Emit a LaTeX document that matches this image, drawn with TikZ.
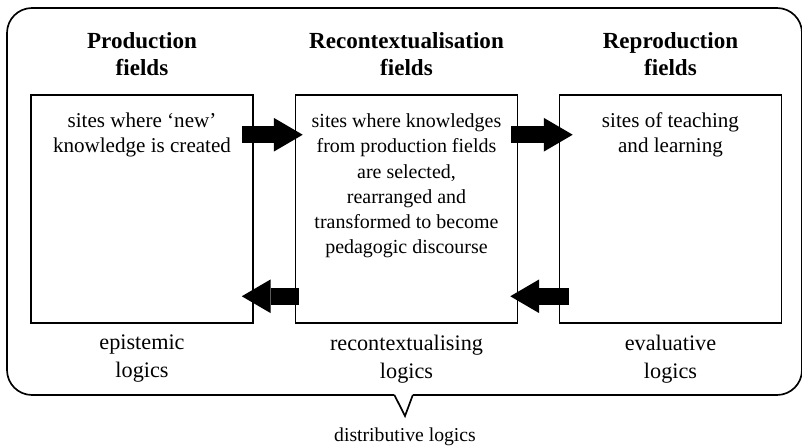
\documentclass[tikz,border=0pt]{standalone}
\usepackage{fontspec}
\setmainfont{Liberation Serif}
\usetikzlibrary{positioning,arrows.meta}

\tikzset{
  field/.style={draw, line width=1.1pt, minimum width=5.55cm, minimum height=5.7cm},
  sites/.style={inner sep=0pt, align=center, font=\fontsize{15}{17.9}\selectfont},
  heading/.style={inner sep=0pt, align=center, font=\fontsize{16.4}{19.2}\selectfont\bfseries},
  logics/.style={inner sep=0pt, align=center, font=\fontsize{15.8}{19.9}\selectfont},
  fatarrow/.style={line width=0.42cm, -{Triangle[length=0.72cm,width=0.84cm,line width=0pt]}},
}

\begin{document}
\begin{tikzpicture}
\useasboundingbox (0,0) rectangle (20.05,-11.2);

\node[field] (production) at (3.55,-5.225) {};
\node[field] (recontext) at (10.1625,-5.225) {};
\node[field] (reproduction) at (16.7625,-5.225) {};

\node[heading, above=0.45cm of production.north] (productionhead) {Production\\fields};
\node[heading, above=0.45cm of recontext.north] (recontexthead) {Recontextualisation\\fields};
\node[heading, above=0.45cm of reproduction.north] (reproductionhead) {Reproduction\\fields};

\node[sites, below=0.46cm of production.north] (productiontext) {sites where ‘new’\\knowledge is created};
\node[sites, font=\fontsize{14.2}{17.9}\selectfont, below=0.485cm of recontext.north] (recontexttext) {sites where knowledges\\from production fields\\are selected,\\rearranged and\\transformed to become\\pedagogic discourse};
\node[sites, below=0.46cm of reproduction.north] (reproductiontext) {sites of teaching\\and learning};

\node[logics, below=0.27cm of production.south] (epistemic) {epistemic\\logics};
\node[logics, below=0.27cm of recontext.south] (recontextualising) {recontextualising\\logics};
\node[logics, below=0.27cm of reproduction.south] (evaluative) {evaluative\\logics};

% outer frame with the notch
\coordinate (notchleft) at (9.86,-9.875);
\coordinate (notchright) at (10.32,-9.875);
\coordinate (notch) at (10.125,-10.4);
\draw[line width=1.2pt, rounded corners=0.625cm] (notchleft) -- (0.175,-9.875) -- (0.175,-0.2) -- (20.05,-0.2) -- (20.05,-9.875) -- (notchright);
\draw[line width=1.2pt] (notchright) -- (notch) -- (notchleft);
\node[inner sep=0pt, font=\fontsize{14}{17}\selectfont, below=0.28cm of notch] (distributive) {distributive logics};

\draw[fatarrow] ([shift={(-0.3,-1.0125)}]production.north east) -- ([shift={(0.2,-1.0125)}]recontext.north west);
\draw[fatarrow] ([shift={(-0.175,-1.0125)}]recontext.north east) -- ([shift={(0.35,-1.0125)}]reproduction.north west);
\draw[fatarrow] ([shift={(0.1,0.6875)}]recontext.south west) -- ([shift={(-0.3,0.6875)}]production.south east);
\draw[fatarrow] ([shift={(0.25,0.6875)}]reproduction.south west) -- ([shift={(-0.2,0.6875)}]recontext.south east);
\end{tikzpicture}
\end{document}
